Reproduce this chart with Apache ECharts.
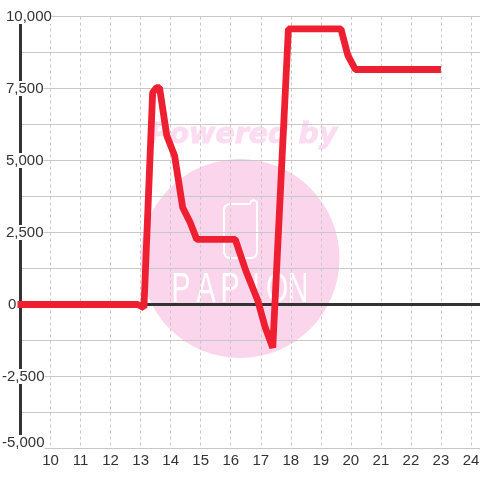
<!DOCTYPE html>
<html>
<head>
<meta charset="utf-8">
<style>
  html, body { margin: 0; padding: 0; background: #fff; }
  #main { width: 480px; height: 480px; }
</style>
<script src="https://cdn.jsdelivr.net/npm/echarts@6/dist/echarts.min.js"></script>
</head>
<body>
<div id="main"></div>
<script type="text/javascript">
    // 读图估算的数据
    var hours = [8.9, 12.9, 13.11, 13.4, 13.53, 13.63, 13.87, 14.13, 14.4, 14.65, 14.87, 16.15, 16.5, 16.9, 17.15, 17.4, 17.92, 19.67, 19.9, 20.15, 23];
    var values = [0, 0, -110, 7360, 7530, 7530, 5870, 5170, 3370, 2850, 2260, 2260, 1180, 140, -800, -1500, 9570, 9570, 8650, 8160, 8160];
    var yLabels = { '10000': '10,000', '7500': '7,500', '5000': '5,000', '2500': '2,500', '0': '0', '-2500': '-2,500', '-5000': '-5,000' };
    var logoLetters = ['P', 'A', 'P', 'I', 'O', 'N'];
    var logoLetterX = [181, 206, 230, 256, 277, 298];

    var gridColor = '#c8c8c8';
    var textColor = '#333333';
    var pink = '#fbd5ec';

    var watermark = [
        { type: 'circle', z: -2, shape: { cx: 240, cy: 258.5, r: 99.5 }, style: { fill: pink } },
        { type: 'text', z: -2, x: 243, y: 136, style: {
            text: 'Powered by', fill: '#fcdcf0', stroke: '#fcdcf0', lineWidth: 0.8, align: 'center', verticalAlign: 'middle',
            font: 'italic bold 28.5px "DejaVu Sans"'
        } },
        // 手机图标
        { type: 'polygon', z: -1, shape: {
            points: [[229, 204], [250, 204], [251, 201], [254, 200], [257, 202], [257, 253], [255, 257], [251, 258], [230, 258], [226, 257], [224, 253], [224, 209], [225, 206]]
          }, style: { fill: 'none', stroke: '#ffffff', lineWidth: 2 } }
    ];
    logoLetters.forEach(function (c, i) {
        watermark.push({ type: 'text', z: -1, x: logoLetterX[i], y: 290, scaleX: 0.68, style: {
            text: c, fill: '#ffffff', align: 'center', verticalAlign: 'middle',
            font: '42px "Liberation Sans"'
        } });
    });

    var myChart = echarts.init(document.getElementById('main'));
    var option = {
        animation: false,
        backgroundColor: '#ffffff',
        graphic: watermark,
        grid: { left: 20.5, right: 0, top: 16.5, bottom: 31.5, outerBoundsMode: 'none' },
        xAxis: [
            {
                type: 'value', min: 9, max: 24.3, interval: 1, position: 'bottom',
                axisLine: { onZero: false, lineStyle: { color: gridColor, width: 1 } },
                axisTick: { show: false },
                axisLabel: {
                    color: textColor, fontFamily: 'Liberation Sans', fontSize: 15, margin: 5,
                    showMinLabel: false, showMaxLabel: false,
                    formatter: function (v) { return v >= 10 && v === Math.round(v) ? String(v) : ''; }
                },
                splitLine: { show: true, lineStyle: { color: gridColor, width: 1, type: [3, 3] } }
            },
            {
                // 零线
                type: 'value', min: 9, max: 24.3, interval: 1, position: 'top',
                axisLine: { onZero: true, lineStyle: { color: textColor, width: 3 } },
                axisTick: { show: false }, axisLabel: { show: false }, splitLine: { show: false }
            }
        ],
        yAxis: {
            type: 'value', min: -5000, max: 10000, interval: 1250,
            axisLine: { show: true, onZero: false, lineStyle: { color: textColor, width: 3 } },
            axisTick: { show: false },
            splitLine: { show: true, lineStyle: { color: gridColor, width: 1 } },
            axisLabel: {
                align: 'left', margin: 18.5, showMinLabel: true, showMaxLabel: true,
                formatter: function (v) {
                    var s = yLabels[String(v)];
                    if (!s) return '';
                    if (v === -5000) return '{low|' + s + '}';
                    if (v === 0) return '{zero|' + s + '}';
                    return (v < 0 ? '{neg|' : '{pos|') + s + '}';
                },
                rich: {
                    pos: { color: textColor, fontFamily: 'Liberation Sans', fontSize: 15, lineHeight: 16, backgroundColor: '#fff', padding: [0, 0, 0, 4] },
                    neg: { color: textColor, fontFamily: 'Liberation Sans', fontSize: 15, lineHeight: 16, backgroundColor: '#fff' },
                    zero: { color: textColor, fontFamily: 'Liberation Sans', fontSize: 15, lineHeight: 16, padding: [0, 0, 0, 6] },
                    low: { color: textColor, fontFamily: 'Liberation Sans', fontSize: 15, lineHeight: 16, backgroundColor: '#fff', padding: [0, 0, 12, 0] }
                }
            }
        },
        series: [{
            type: 'line',
            xAxisIndex: 0,
            clip: false,
            showSymbol: false,
            symbol: 'none',
            data: hours.map(function (h, i) { return [h, values[i]]; }),
            lineStyle: { color: '#ef1f32', width: 6.8, join: 'bevel', cap: 'butt' }
        }]
    };
    myChart.setOption(option);
</script>
</body>
</html>
